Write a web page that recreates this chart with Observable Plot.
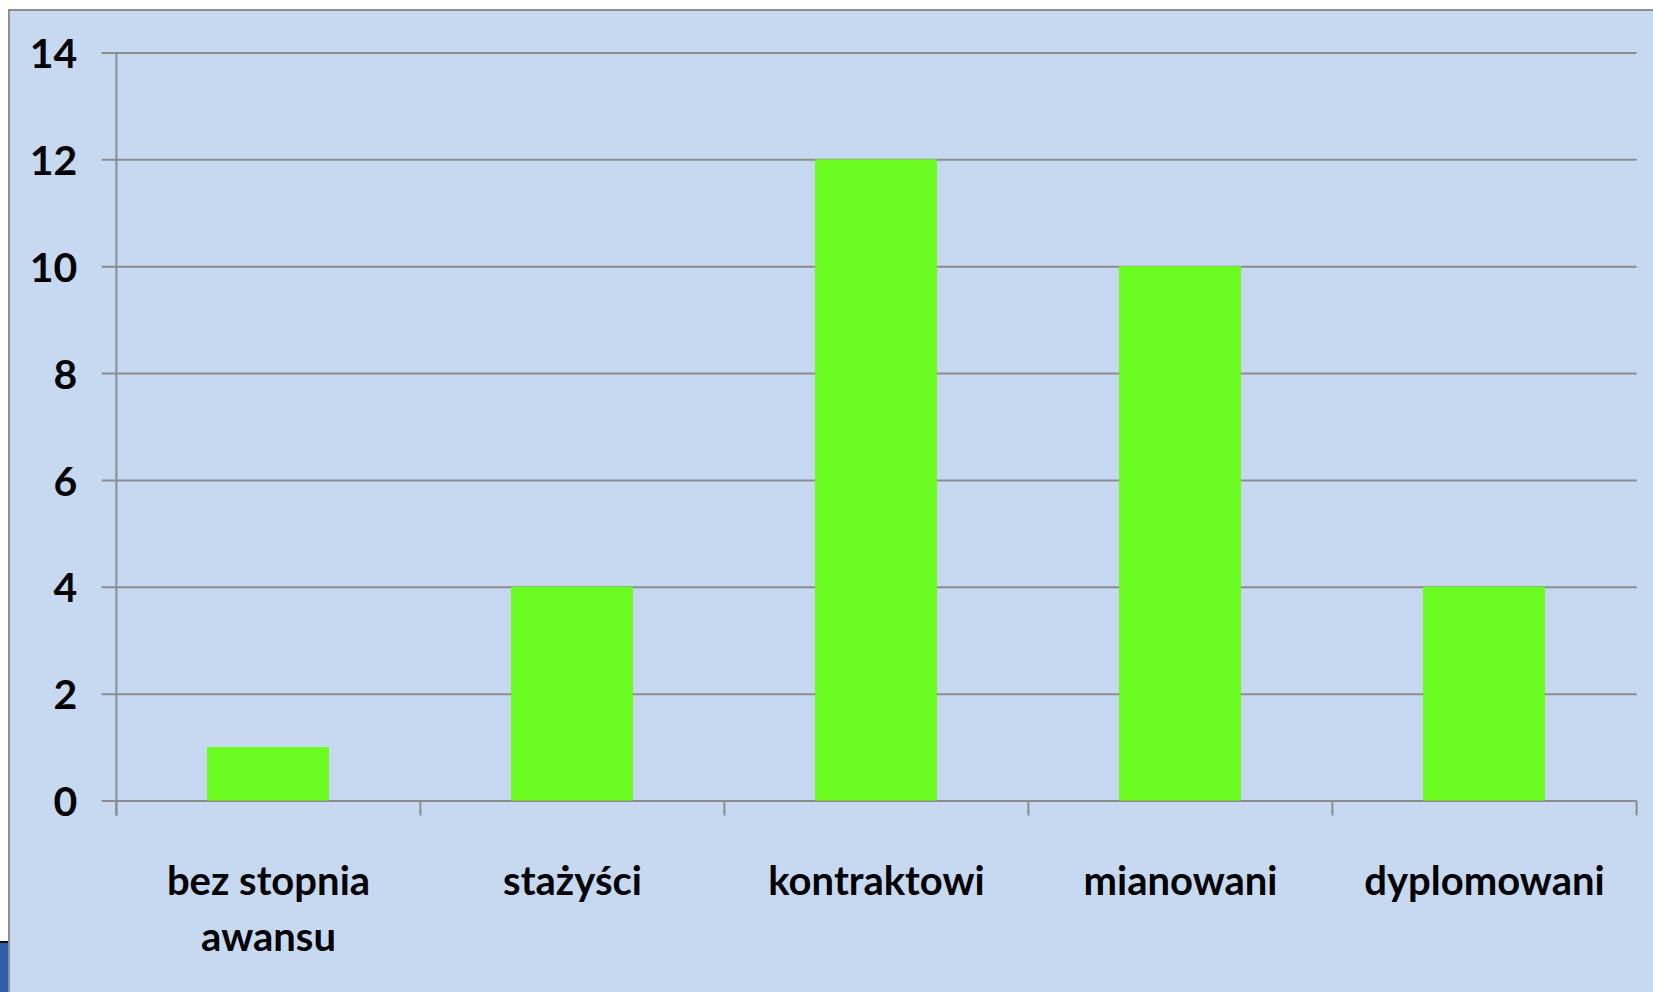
<!DOCTYPE html>
<html>
<head>
<meta charset="utf-8">
<script src="https://cdn.jsdelivr.net/npm/d3@7"></script>
<script src="https://cdn.jsdelivr.net/npm/@observablehq/plot@0.6"></script>
<style>
  html, body { margin: 0; padding: 0; background: #ffffff; overflow: hidden; }
  #frame {
    position: absolute; left: 8px; top: 9px;
    width: 1645px; height: 983px;
    background: #C6D9F1;
    border-top: 2px solid #8e8e8e; border-left: 2px solid #8e8e8e;
  }
  #deco {
    position: absolute; left: 0; top: 941px; width: 8px; height: 51px;
    background: #2E5FA8; border-top: 2px solid #111;
  }
  svg { display: block; }
</style>
</head>
<body>
<div id="deco"></div>
<div id="frame"></div>
<script>
const categories = ["bez stopnia awansu", "stażyści", "kontraktowi", "mianowani", "dyplomowani"];
const labelLines = ["bez stopnia\nawansu", "stażyści", "kontraktowi", "mianowani", "dyplomowani"];
const values = [1, 4, 12, 10, 4];
const yTicks = [0, 2, 4, 6, 8, 10, 12, 14];

const data = categories.map((c, i) => ({category: c, value: values[i]}));

const W = 1643, H = 981;
const mL = 105.7, mR = 16.3, mT = 41.5, mB = 191.5;
const step = (W - mL - mR) / categories.length;
const gray = "#8c8c8c";
const font = "Lato, 'Open Sans', sans-serif";

const chart = Plot.plot({
  width: W,
  height: H,
  marginLeft: mL,
  marginRight: mR,
  marginTop: mT,
  marginBottom: mB,
  style: {background: "transparent", fontFamily: font, fontWeight: "bold", color: "#000"},
  x: {domain: categories, paddingInner: 0.6, paddingOuter: 0.3, axis: null},
  y: {domain: [0, 14], axis: null},
  marks: [
    Plot.ruleY(yTicks, {stroke: gray, strokeWidth: 2, insetLeft: -14}),
    Plot.ruleX([categories[0]], {dx: -step / 2, y1: -0.281, y2: 14, stroke: gray, strokeWidth: 2}),
    Plot.ruleX(categories, {dx: -step / 2, y1: -0.281, y2: 0, stroke: gray, strokeWidth: 2}),
    Plot.ruleX([categories[categories.length - 1]], {dx: step / 2, y1: -0.281, y2: 0, stroke: gray, strokeWidth: 2}),
    Plot.barY(data, {x: "category", y: "value", fill: "#6DFC22"}),
    Plot.axisY({
      ticks: yTicks, tickSize: 0, tickPadding: 39, dy: 2,
      fontSize: 41, fontWeight: "bold", fill: "#000", label: null
    }),
    Plot.axisX({
      tickSize: 0, tickPadding: 54, lineAnchor: "top", lineHeight: 1.4,
      tickFormat: (d) => labelLines[categories.indexOf(d)],
      fontSize: 40, fontWeight: "bold", fill: "#000", label: null
    })
  ]
});
document.getElementById("frame").appendChild(chart);
</script>
</body>
</html>
